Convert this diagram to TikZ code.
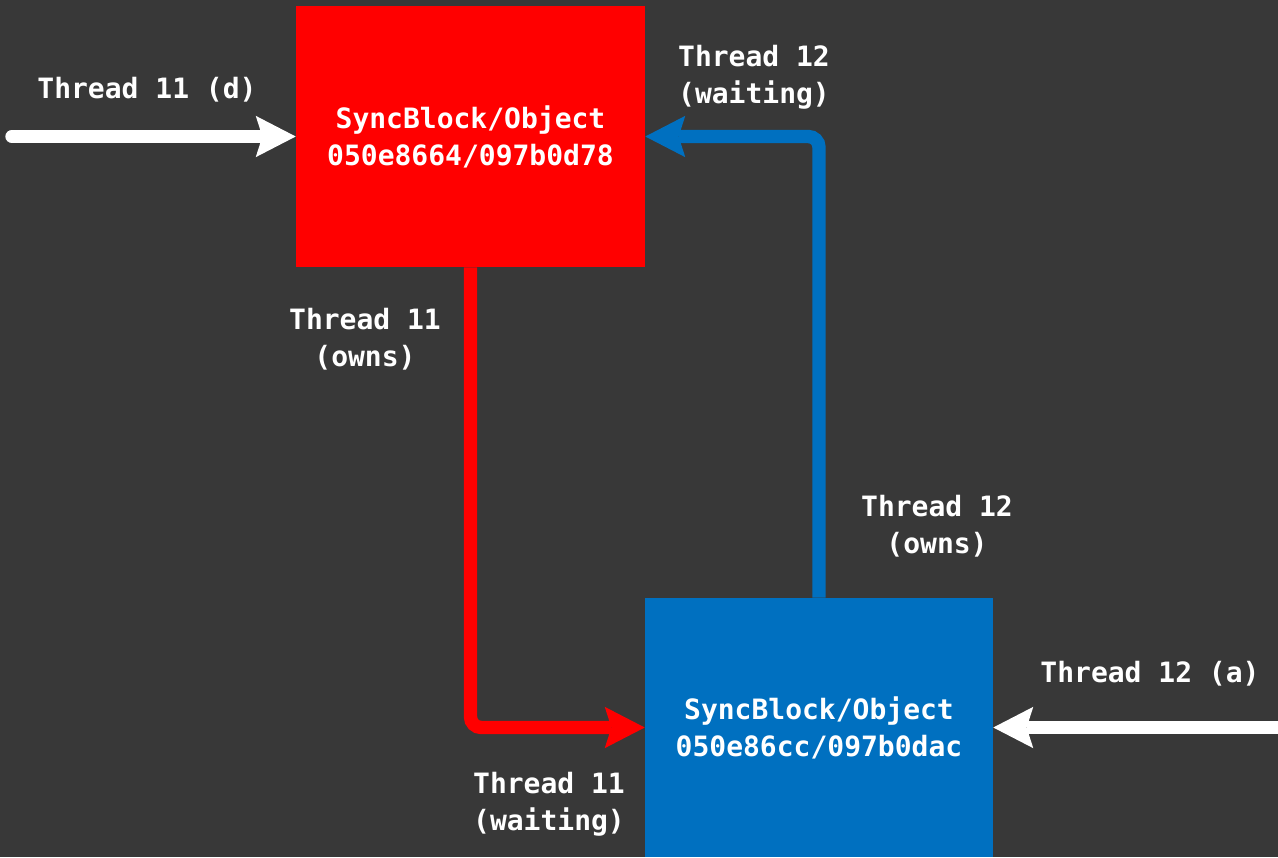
\documentclass[tikz,border=0pt]{standalone}
\usepackage{fontspec}
\setmainfont{DejaVu Sans Mono}
\usetikzlibrary{arrows.meta}
\definecolor{bg}{RGB}{56,56,56}
\definecolor{boxred}{RGB}{255,0,0}
\definecolor{boxblue}{RGB}{0,112,192}
\tikzset{
  lbl/.style={text=white, align=center, inner sep=0pt, font=\fontsize{21}{27.75}\selectfont\bfseries},
  box/.style={draw=none, inner sep=0pt, text=white, align=center, font=\fontsize{21}{27.75}\selectfont\bfseries},
  conn/.style={line width=10pt, rounded corners=8pt, -{Stealth[length=30pt,width=31pt,inset=5pt,line width=0pt]}},
}
\begin{document}
\begin{tikzpicture}[x=0.75pt,y=-0.75pt]
\fill[bg] (0,0) rectangle (1278,857);
\useasboundingbox (0,0) rectangle (1278,857);
\node[box, fill=boxred, minimum width=261.75pt, minimum height=195.75pt] (red) at (470.5,136.5) {SyncBlock/Object\\050e8664/097b0d78};
\node[box, fill=boxblue, minimum width=261pt, minimum height=194.25pt] (blue) at (819,727.5) {SyncBlock/Object\\050e86cc/097b0dac};
\coordinate (inA) at (12,136.5);
\coordinate (inB) at (1278,727.5);
\draw[conn, white, line cap=round] (inA) -- (red.west);
\draw[conn, white] (inB) -- (blue.east);
\draw[conn, boxred] (red.south) |- (blue.west);
\draw[conn, boxblue] (blue.north) |- (red.east);
\node[lbl] (l1) at (147,90) {Thread 11 (d)};
\node[lbl] (l2) at (754,77) {Thread 12\\(waiting)};
\node[lbl] (l3) at (365,339) {Thread 11\\(owns)};
\node[lbl] (l4) at (937,526) {Thread 12\\(owns)};
\node[lbl] (l5) at (1150,674) {Thread 12 (a)};
\node[lbl] (l6) at (549,804) {Thread 11\\(waiting)};
\end{tikzpicture}
\end{document}
